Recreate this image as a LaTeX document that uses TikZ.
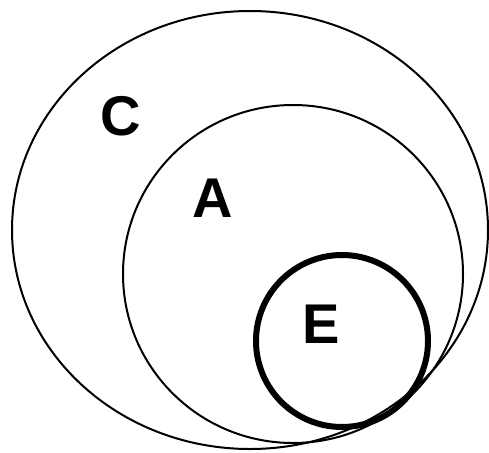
\documentclass[tikz,border=0pt]{standalone}
\usepackage{fontspec}
\setmainfont{Liberation Sans}
\usetikzlibrary{shapes.geometric,positioning}

\begin{document}
\begin{tikzpicture}[
    x=1pt, y=-1pt,
    setline/.style={ellipse, draw, line width=2pt, inner sep=0pt},
    subset/.style={circle, draw, line width=6pt, inner sep=0pt},
    setname/.style={font=\fontsize{56}{56}\selectfont\bfseries, inner sep=0pt}
]
    \useasboundingbox (0,0) rectangle (489,452);

    % Sets
    \node [setline, minimum width=476pt, minimum height=438pt] (setC) at (250,230) {};
    \node [setline, minimum width=340pt, minimum height=338pt] (setA) at (293,274) {};
    \node [subset, minimum size=172pt] (setE) at (342,341) {};

    % Labels
    \node [setname] (labelC) at (121,116) {C};
    \node [setname] (labelA) at (213,198) {A};
    \node [setname] (labelE) at (321,324) {E};

\end{tikzpicture}
\end{document}
